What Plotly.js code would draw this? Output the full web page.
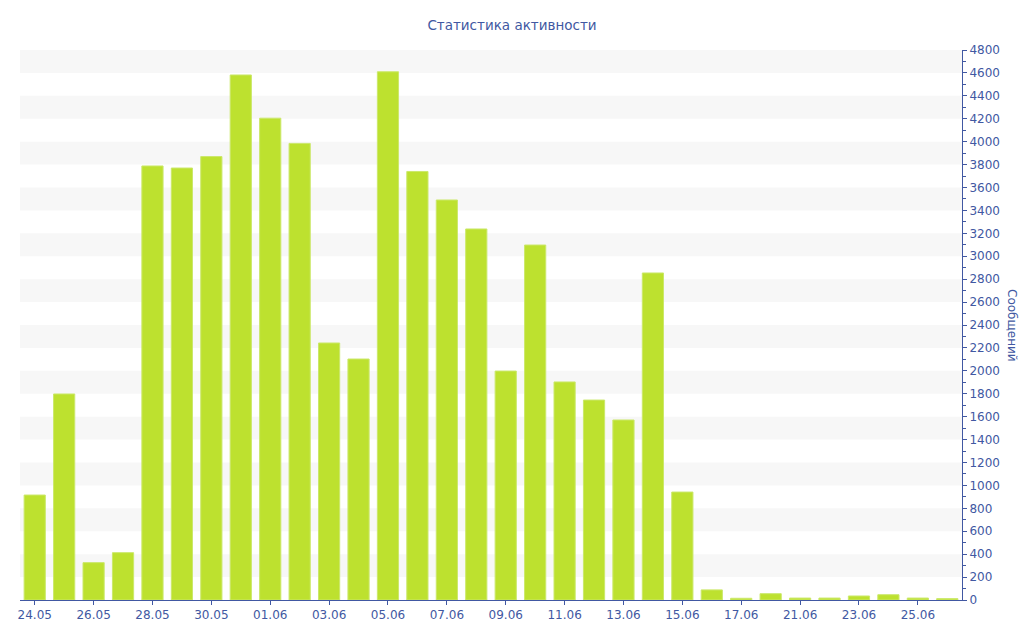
<!DOCTYPE html>
<html>
<head>
<meta charset="utf-8">
<script src="https://cdn.plot.ly/plotly-3.0.1.min.js"></script>
<style>html,body{margin:0;padding:0;background:#fff;}#chart{width:1024px;height:640px;}</style>
</head>
<body>
<div id="chart"></div>
<script>
const dates = ["24.05","25.05","26.05","27.05","28.05","29.05","30.05","31.05",
  "01.06","02.06","03.06","04.06","05.06","06.06","07.06","08.06","09.06","10.06",
  "11.06","12.06","13.06","14.06","15.06","16.06","17.06","19.06","21.06","22.06",
  "23.06","24.06","25.06","26.06"];
const messages = [916,1798,326,413,3788,3770,3870,4582,
  4205,3985,2243,2103,4610,3740,3491,3238,1998,3098,
  1903,1745,1571,2854,942,88,15,55,17,17,
  35,46,17,12];
const tickLabels = ["24.05","26.05","28.05","30.05","01.06","03.06","05.06","07.06",
  "09.06","11.06","13.06","15.06","17.06","21.06","23.06","25.06"];
const yTicks = [0,200,400,600,800,1000,1200,1400,1600,1800,2000,2200,2400,2600,2800,
  3000,3200,3400,3600,3800,4000,4200,4400,4600,4800];

const blue = '#4158a2';
const bands = [];
for (let i = 1; i < yTicks.length - 1; i += 2) {
  bands.push({type:'rect', xref:'paper', yref:'y', x0:0, x1:1,
    y0:yTicks[i], y1:yTicks[i+1], fillcolor:'#f7f7f7', line:{width:0}, layer:'below'});
}

const data = [{
  type:'bar', x:dates, y:messages,
  marker:{color:'#bde12f', line:{color:'#cbe86a', width:1}},
  hoverinfo:'x+y'
}];

const layout = {
  width:1024, height:640,
  margin:{l:20, r:62, t:50, b:40, autoexpand:false},
  paper_bgcolor:'#fff', plot_bgcolor:'#fff',
  font:{family:'DejaVu Sans, sans-serif', size:12, color:blue},
  title:{text:'Статистика активности', font:{size:13.5, color:blue}, x:0.5, xanchor:'center', y:0.96, yanchor:'middle'},
  bargap:0.28,
  showlegend:false,
  shapes:bands,
  xaxis:{type:'category', categoryorder:'array', categoryarray:dates,
    range:[-0.5, dates.length-0.5], automargin:false,
    tickmode:'array', tickvals:tickLabels, ticktext:tickLabels,
    ticks:'outside', ticklen:4, tickcolor:blue, tickangle:0,
    showline:true, linecolor:blue, linewidth:1, showgrid:false, zeroline:false,
    tickfont:{size:12, color:blue}},
  yaxis:{side:'right', range:[0,4800], tickmode:'array', tickvals:yTicks, automargin:false,
    ticks:'outside', ticklen:4, tickcolor:blue,
    minor:{dtick:100, ticks:'outside', ticklen:3, tickcolor:blue, showgrid:false},
    showline:true, linecolor:blue, linewidth:1, showgrid:false, zeroline:false,
    tickfont:{size:12, color:blue}},
  annotations:[{text:'Сообщений', xref:'paper', yref:'paper', x:1.0, xshift:50, y:0.5,
    textangle:90, showarrow:false, font:{size:12, color:blue}, xanchor:'center', yanchor:'middle'}]
};

Plotly.newPlot('chart', data, layout, {displayModeBar:false, staticPlot:true});
</script>
</body>
</html>
